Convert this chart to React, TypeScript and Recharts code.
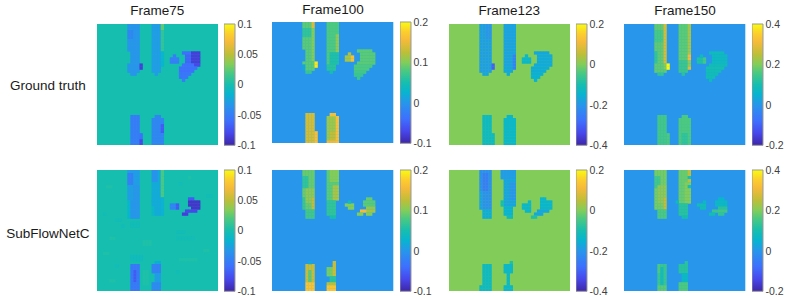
import React from "react";
import { ScatterChart, Scatter, XAxis, YAxis, ReferenceArea, BarChart, Bar } from "recharts";

type Patch = [number, number, number, number, number]; // rowFrom, rowTo, colFrom, colTo, value

const GRID = 40;
const titles = ["Frame75", "Frame100", "Frame123", "Frame150"];
const rowLabels = ["Ground truth", "SubFlowNetC"];

const domains: [number, number][] = [[-0.1, 0.1], [-0.1, 0.2], [-0.4, 0.2], [-0.2, 0.4]];
const tickSets = [
  [-0.1, -0.05, 0, 0.05, 0.1],
  [-0.1, 0, 0.1, 0.2],
  [-0.4, -0.2, 0, 0.2],
  [-0.2, 0, 0.2, 0.4],
];

const parulaStops: [number, number, number, number][] = [
  [0, 62, 38, 168],
  [0.1, 71, 71, 235],
  [0.2, 62, 111, 254],
  [0.333, 39, 150, 235],
  [0.42, 8, 180, 208],
  [0.5, 22, 190, 175],
  [0.6, 76, 201, 128],
  [0.667, 130, 205, 90],
  [0.75, 190, 190, 56],
  [0.85, 245, 186, 58],
  [0.92, 252, 206, 46],
  [1, 249, 251, 14],
];

const frame75Truth: Patch[] = [
  [0, 15, 10, 13, -0.035], [16, 16, 11, 12, -0.035], [9, 12, 10, 10, 0], [2, 4, 10, 11, -0.045], [13, 14, 14, 14, -0.085],
  [0, 13, 18, 21, -0.03], [14, 15, 18, 20, -0.03], [16, 16, 19, 19, -0.03], [0, 1, 21, 21, 0.025], [2, 8, 21, 21, 0.01], [9, 13, 21, 21, -0.015],
  [11, 12, 24, 26, -0.05], [10, 10, 25, 25, -0.05],
  [9, 9, 28, 32, -0.06], [10, 12, 29, 33, -0.065], [13, 13, 28, 33, -0.06], [14, 14, 27, 32, -0.06], [15, 15, 27, 31, -0.06], [16, 16, 27, 30, -0.055], [17, 17, 27, 29, -0.055], [18, 18, 28, 28, -0.05],
  [9, 12, 31, 33, -0.085], [13, 13, 32, 33, -0.08],
  [30, 39, 11, 13, -0.052], [36, 39, 14, 14, -0.06], [38, 39, 14, 14, -0.08],
  [31, 39, 18, 21, -0.045], [30, 30, 19, 20, -0.045], [33, 35, 21, 21, -0.07],
];

const frame75Pred: Patch[] = [
  [5, 5, 3, 4, 0.003], [14, 14, 2, 2, -0.004], [16, 16, 6, 7, -0.004], [18, 18, 8, 8, -0.005], [22, 22, 4, 5, 0.003], [27, 27, 2, 3, 0.003], [31, 31, 6, 6, -0.004], [36, 36, 4, 5, 0.003],
  [8, 8, 36, 37, -0.004], [4, 4, 27, 27, -0.004], [20, 20, 26, 28, -0.004], [22, 22, 26, 31, -0.003], [29, 29, 27, 32, 0.003], [33, 33, 26, 26, -0.004], [26, 26, 35, 36, 0.003], [2, 2, 30, 30, 0.003],
  [28, 29, 11, 14, -0.006], [17, 18, 11, 13, -0.004], [23, 24, 15, 17, 0.003], [33, 37, 15, 16, 0.003],
  [0, 15, 10, 13, -0.03], [1, 4, 10, 11, -0.05], [5, 9, 12, 13, -0.035], [10, 15, 11, 13, -0.035], [10, 15, 10, 10, -0.015],
  [0, 14, 18, 20, -0.022], [0, 3, 18, 19, -0.036], [0, 8, 21, 21, 0.018], [9, 14, 21, 21, -0.018], [12, 14, 18, 18, -0.012],
  [11, 12, 24, 26, -0.045], [11, 12, 26, 26, -0.07],
  [9, 9, 30, 31, -0.07], [10, 11, 30, 33, -0.09], [12, 12, 31, 33, -0.09], [13, 13, 29, 32, -0.08], [14, 14, 28, 29, -0.085],
  [31, 39, 11, 13, -0.055], [33, 36, 12, 12, -0.07],
  [30, 30, 19, 20, -0.02], [31, 33, 18, 20, -0.048], [34, 36, 19, 20, -0.03], [37, 39, 18, 20, -0.042],
];

const frame100Truth: Patch[] = [
  [0, 15, 10, 13, 0.085], [16, 16, 11, 12, 0.07], [9, 12, 10, 10, 0], [2, 4, 10, 12, 0.065], [0, 1, 13, 13, 0.14], [2, 12, 13, 13, 0.1], [13, 14, 14, 14, 0.19], [14, 15, 10, 10, 0.015],
  [0, 13, 18, 21, 0.08], [14, 15, 18, 20, 0.06], [16, 16, 19, 19, 0.05], [4, 9, 21, 21, 0.105], [10, 13, 19, 21, 0.055],
  [11, 12, 24, 26, 0.115], [10, 10, 25, 25, 0.12], [11, 12, 26, 26, 0.16],
  [9, 9, 28, 32, 0.085], [10, 12, 29, 33, 0.085], [13, 13, 28, 33, 0.085], [14, 14, 27, 32, 0.08], [15, 15, 27, 31, 0.08], [16, 16, 27, 30, 0.075], [17, 17, 27, 29, 0.07], [18, 18, 28, 28, 0.07],
  [30, 39, 11, 13, 0.135], [36, 39, 14, 14, 0.16],
  [31, 39, 18, 21, 0.11], [30, 30, 19, 20, 0.16], [31, 39, 21, 21, 0.16], [36, 38, 19, 20, 0.125], [39, 39, 18, 20, 0.15],
];

const frame100Pred: Patch[] = [
  [0, 15, 10, 13, 0.09], [2, 5, 10, 11, 0.065], [6, 10, 11, 13, 0.105], [9, 12, 10, 10, 0.07], [9, 12, 13, 13, 0.125], [13, 15, 11, 13, 0.075], [13, 15, 10, 10, 0],
  [0, 14, 18, 21, 0.085], [0, 3, 19, 21, 0.1], [5, 9, 20, 21, 0.115], [10, 14, 18, 20, 0.065], [10, 14, 21, 21, 0], [15, 15, 19, 20, 0.05],
  [11, 12, 24, 26, 0.1], [12, 12, 24, 24, 0], [10, 10, 25, 25, 0.04],
  [9, 9, 31, 32, 0.09], [10, 11, 30, 33, 0.085], [12, 12, 31, 33, 0.105], [13, 13, 31, 33, 0.115], [13, 13, 29, 30, 0.155], [14, 14, 28, 29, 0.1], [14, 14, 31, 32, 0.1],
  [31, 39, 11, 13, 0.13], [33, 36, 12, 12, 0.085], [37, 39, 11, 13, 0.165], [30, 30, 12, 12, 0.02],
  [32, 34, 18, 19, 0.095], [30, 34, 20, 20, 0.13], [35, 36, 19, 20, 0.06], [37, 37, 18, 20, 0.12], [38, 39, 18, 20, 0.165],
];

const frame123Truth: Patch[] = [
  [0, 15, 10, 13, -0.185], [16, 16, 11, 12, -0.17], [13, 14, 14, 14, -0.3], [0, 4, 12, 13, -0.2],
  [0, 13, 18, 21, -0.18], [14, 15, 18, 20, -0.17], [16, 16, 19, 19, -0.16], [10, 14, 21, 21, -0.24],
  [11, 12, 24, 26, -0.135], [10, 10, 25, 25, -0.135],
  [9, 9, 28, 32, -0.17], [10, 12, 29, 33, -0.165], [13, 13, 28, 33, -0.165], [14, 14, 27, 32, -0.16], [15, 15, 27, 31, -0.16], [16, 16, 27, 30, -0.155], [17, 17, 27, 29, -0.15], [18, 18, 28, 28, -0.15],
  [30, 39, 11, 13, -0.125], [36, 39, 14, 14, -0.125],
  [31, 39, 18, 21, -0.135], [30, 30, 19, 20, -0.14],
];

const frame123Pred: Patch[] = [
  [0, 12, 10, 13, -0.21], [1, 6, 11, 12, -0.25], [13, 15, 11, 13, -0.16], [7, 12, 10, 10, -0.18],
  [0, 2, 17, 21, -0.19], [3, 11, 18, 21, -0.175], [12, 14, 18, 20, -0.15], [4, 9, 20, 21, -0.2], [10, 11, 17, 17, -0.1], [15, 15, 19, 20, -0.12],
  [11, 12, 24, 26, -0.135], [10, 10, 26, 26, -0.13], [13, 13, 25, 26, -0.14],
  [9, 9, 30, 31, -0.14], [10, 12, 30, 33, -0.14], [13, 13, 29, 32, -0.17], [14, 14, 28, 30, -0.17], [15, 15, 27, 28, -0.09],
  [31, 39, 11, 13, -0.125], [38, 39, 10, 13, -0.125],
  [30, 30, 20, 20, -0.09], [31, 33, 18, 20, -0.135], [34, 37, 19, 19, -0.13], [38, 39, 18, 20, -0.135],
];

const frame150Truth: Patch[] = [
  [0, 15, 10, 13, 0.175], [16, 16, 11, 12, 0.13], [2, 5, 10, 12, 0.155], [9, 12, 10, 10, 0.13], [0, 12, 13, 13, 0.27], [13, 14, 14, 14, 0.4], [13, 14, 13, 13, 0.2],
  [0, 13, 18, 21, 0.17], [14, 15, 18, 20, 0.14], [16, 16, 19, 19, 0.12], [0, 9, 21, 21, 0.23], [10, 11, 21, 21, 0.31], [12, 13, 21, 21, 0.21], [14, 14, 21, 21, 0.28], [12, 15, 18, 20, 0.14],
  [11, 12, 24, 26, 0.11], [10, 10, 25, 25, 0.08], [11, 12, 26, 26, 0.15],
  [9, 9, 28, 32, 0.08], [10, 12, 29, 33, 0.075], [13, 13, 28, 33, 0.085], [14, 14, 27, 32, 0.095], [15, 15, 27, 31, 0.09], [16, 16, 27, 30, 0.085], [17, 17, 27, 29, 0.09], [18, 18, 28, 28, 0.08],
  [30, 39, 11, 13, 0.15], [36, 39, 14, 14, 0.16],
  [31, 39, 18, 21, 0.16], [30, 30, 19, 20, 0.16], [36, 39, 19, 20, 0.13],
];

const frame150Pred: Patch[] = [
  [0, 15, 10, 13, 0.19], [2, 5, 10, 11, 0.15], [5, 10, 11, 13, 0.21], [9, 12, 13, 13, 0.25], [13, 15, 11, 13, 0.16], [13, 15, 10, 10, 0],
  [0, 14, 18, 21, 0.18], [0, 3, 21, 21, 0.25], [4, 10, 20, 21, 0.2], [2, 2, 21, 21, 0.1], [5, 5, 21, 21, 0.1], [11, 14, 18, 20, 0.12], [11, 14, 21, 21, 0], [15, 15, 19, 20, 0.1], [10, 10, 17, 17, 0.08],
  [11, 12, 24, 26, 0.09], [10, 10, 26, 26, 0.07], [12, 12, 24, 24, 0],
  [9, 9, 31, 32, 0.06], [10, 11, 30, 33, 0.07], [12, 12, 31, 33, 0.12], [13, 13, 31, 33, 0.15], [13, 13, 29, 30, 0.14], [14, 14, 28, 29, 0.09], [14, 14, 31, 32, 0.13],
  [31, 39, 11, 13, 0.14], [32, 37, 12, 12, 0.09], [38, 39, 11, 13, 0.17], [31, 33, 11, 11, 0.16],
  [31, 33, 18, 19, 0.12], [30, 34, 20, 20, 0.12], [34, 37, 19, 20, 0.07], [37, 39, 18, 20, 0.16],
];

const truthPanels = [frame75Truth, frame100Truth, frame123Truth, frame150Truth];
const predPanels = [frame75Pred, frame100Pred, frame123Pred, frame150Pred];

const heatLeft = [96.7, 272.3, 448.7, 624.3];
const barLeft = [224, 399.8, 576, 752];
const heatTops = [[24, 22, 24, 24], [170, 170, 170, 170]];
const HEAT_SIZE = 121.3;
const BAR_W = 10.5;
const AXIS_W = 36;
const PAD = 10;

function colorAt(t: number) {
  const p = Math.max(0, Math.min(1, t));
  for (let i = 1; i < parulaStops.length; i++) {
    const a = parulaStops[i - 1];
    const b = parulaStops[i];
    if (p <= b[0]) {
      const k = (p - a[0]) / (b[0] - a[0]);
      const c = [1, 2, 3].map((j) => Math.round(a[j] + (b[j] - a[j]) * k));
      return `rgb(${c[0]},${c[1]},${c[2]})`;
    }
  }
  return "rgb(249,251,14)";
}

function cellsFrom(patches: Patch[]) {
  const m = new Map<string, { col: number; row: number; v: number }>();
  for (const [r0, r1, c0, c1, v] of patches) {
    for (let r = r0; r <= r1; r++) {
      for (let c = c0; c <= c1; c++) {
        m.set(`${r}:${c}`, { col: c + 0.5, row: r + 0.5, v });
      }
    }
  }
  return [...m.values()].filter((d) => d.v !== 0);
}

function Heat({ patches, domain, left, top }: { patches: Patch[]; domain: [number, number]; left: number; top: number }) {
  const data = cellsFrom(patches);
  const toColor = (v: number) => colorAt((v - domain[0]) / (domain[1] - domain[0]));
  const cell = HEAT_SIZE / GRID;
  const shape = (p: any) => (
    <rect
      x={p.cx - cell / 2}
      y={p.cy - cell / 2}
      width={cell + 0.3}
      height={cell + 0.3}
      fill={toColor(p.payload.v)}
    />
  );
  return (
    <div style={{ position: "absolute", left, top, width: HEAT_SIZE, height: HEAT_SIZE, filter: "blur(0.6px)" }}>
      <ScatterChart width={HEAT_SIZE} height={HEAT_SIZE} margin={{ top: 0, right: 0, bottom: 0, left: 0 }}>
        <XAxis type="number" dataKey="col" domain={[0, GRID]} hide />
        <YAxis type="number" dataKey="row" domain={[0, GRID]} reversed hide />
        <ReferenceArea x1={0} x2={GRID} y1={0} y2={GRID} fill={toColor(0)} fillOpacity={1} stroke="none" />
        <Scatter data={data} shape={shape} isAnimationActive={false} />
      </ScatterChart>
    </div>
  );
}

function ColorBar({ domain, ticks, left, top, id }: { domain: [number, number]; ticks: number[]; left: number; top: number; id: string }) {
  const data = [{ name: "bar", range: domain }];
  return (
    <div style={{ position: "absolute", left, top: top - PAD }}>
      <BarChart
        width={BAR_W + AXIS_W}
        height={HEAT_SIZE + PAD * 2}
        data={data}
        barCategoryGap={0}
        margin={{ top: PAD, right: 0, bottom: PAD, left: 0 }}
      >
        <defs>
          <linearGradient id={id} x1="0" y1="1" x2="0" y2="0">
            {parulaStops.map((s) => (
              <stop key={s[0]} offset={s[0]} stopColor={`rgb(${s[1]},${s[2]},${s[3]})`} />
            ))}
          </linearGradient>
        </defs>
        <XAxis type="category" dataKey="name" hide />
        <YAxis
          type="number"
          orientation="right"
          domain={domain}
          ticks={ticks}
          interval={0}
          width={AXIS_W}
          axisLine={false}
          tickLine={false}
          tickSize={0}
          tickMargin={3}
          tick={{ fontFamily: "Liberation Sans", fontSize: 10.5, fill: "#404040", textAnchor: "start" }}
        />
        <Bar dataKey="range" fill={`url(#${id})`} stroke="#999999" strokeWidth={1} isAnimationActive={false} />
      </BarChart>
    </div>
  );
}

const textStyle: React.CSSProperties = {
  position: "absolute",
  fontFamily: "Liberation Sans",
  color: "#1a1a1a",
  whiteSpace: "nowrap",
  lineHeight: "16px",
  fontSize: 13.5,
};

export default function App() {
  return (
    <div style={{ position: "absolute", left: 0, top: 0, width: 789, height: 300, background: "#fff", overflow: "hidden" }}>
      {titles.map((t, i) => (
        <div key={t} style={{ ...textStyle, left: heatLeft[i], width: HEAT_SIZE, top: i === 1 ? 2 : 2.5, textAlign: "center" }}>
          {t}
        </div>
      ))}
      <div style={{ ...textStyle, left: 10, top: 78 }}>{rowLabels[0]}</div>
      <div style={{ ...textStyle, left: 6.3, top: 225.5 }}>{rowLabels[1]}</div>
      {[truthPanels, predPanels].map((panels, r) =>
        panels.map((patches, i) => (
          <React.Fragment key={`${r}-${i}`}>
            <Heat patches={patches} domain={domains[i]} left={heatLeft[i]} top={heatTops[r][i]} />
            <ColorBar domain={domains[i]} ticks={tickSets[i]} left={barLeft[i]} top={heatTops[r][i]} id={`parula${r}${i}`} />
          </React.Fragment>
        ))
      )}
    </div>
  );
}
